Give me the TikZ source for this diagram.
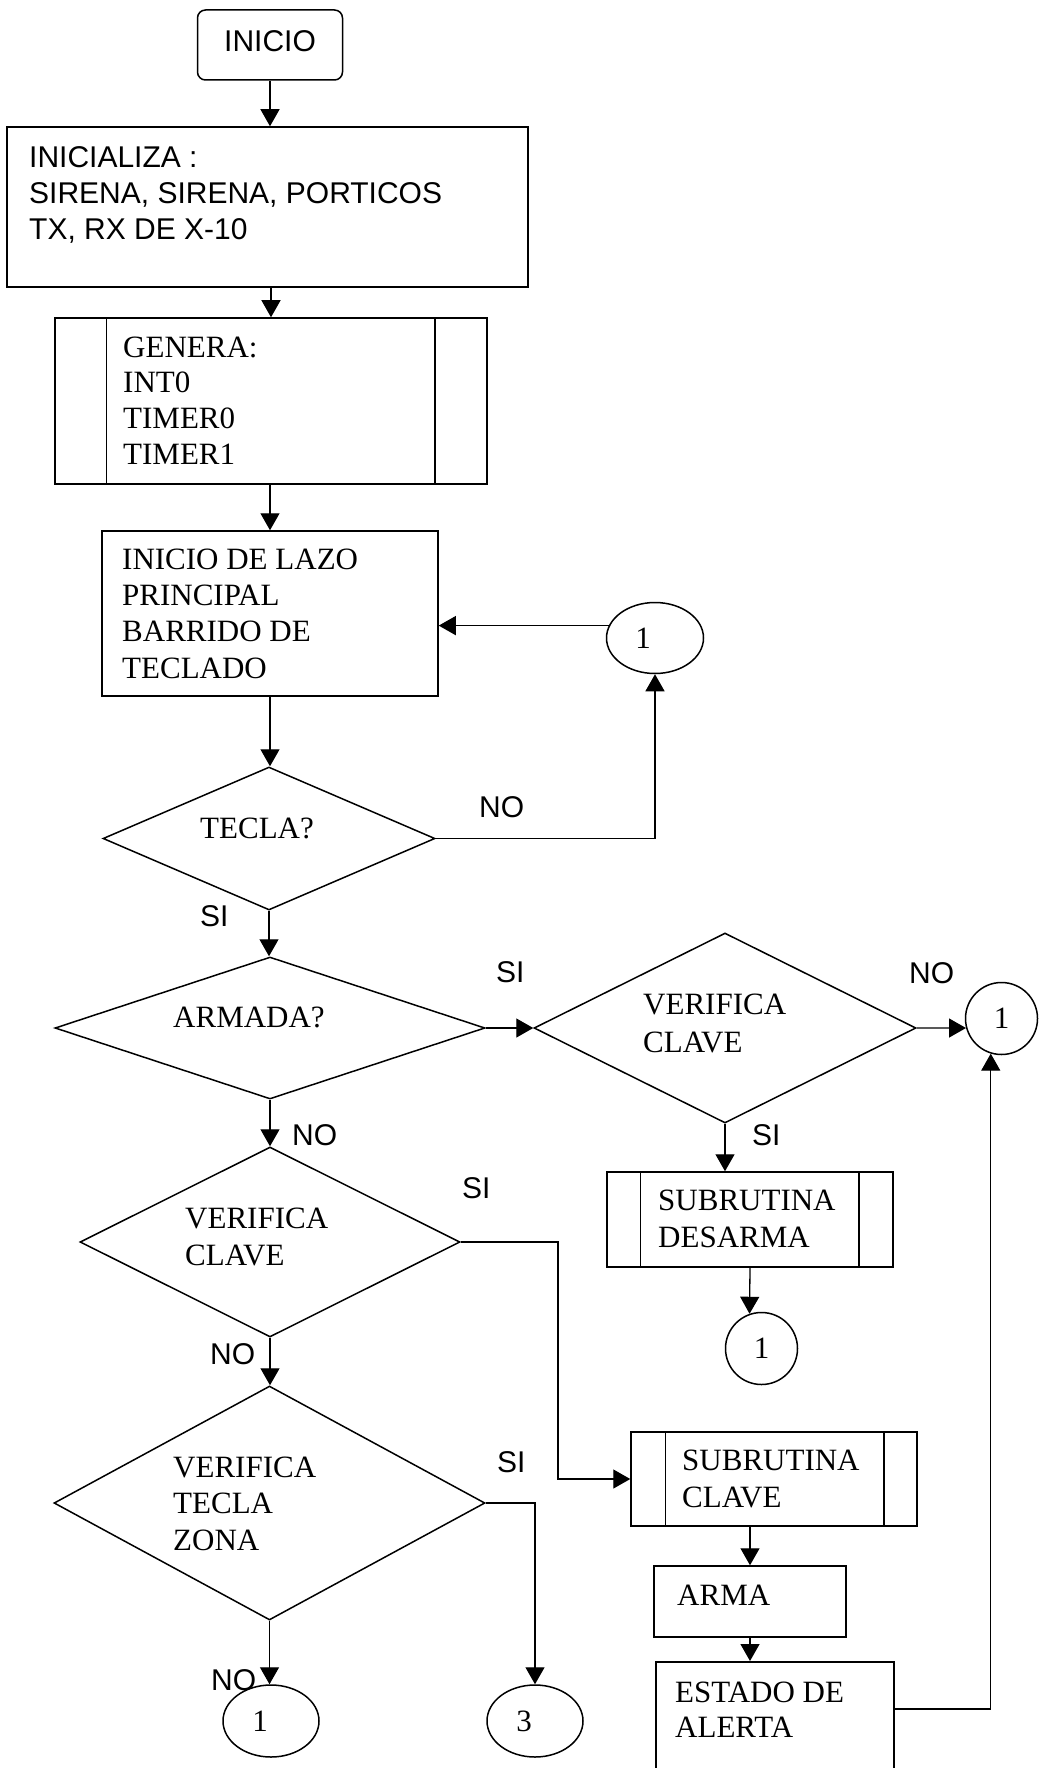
\documentclass[tikz,border=0pt]{standalone}
\usepackage{fontspec}
\setmainfont{Liberation Serif}
\newfontfamily\arialf{Liberation Sans}
\usetikzlibrary{shapes.geometric,arrows.meta,calc}
\begin{document}
\begin{tikzpicture}[x=1pt,y=-1pt,
  shp/.style={draw, line width=1.5pt, inner sep=0pt},
  conn/.style={line width=1.3pt},
  arr/.style={conn, -{Triangle[length=17pt,width=19pt]}},
  stxt/.style={font=\arialf\fontsize{30pt}{36pt}\selectfont, inner sep=0pt},
  rtxt/.style={font=\fontsize{31pt}{#1}\selectfont, inner sep=0pt, align=left},
  rtxt/.default=36.3pt,
  ctxt/.style={font=\fontsize{31pt}{36pt}\selectfont},
  ]
\fill[white] (0,0) rectangle (1041,1768);
\useasboundingbox (0,0) rectangle (1041,1768);
\clip (0,0) rectangle (1041,1768);

% start
\node[shp, rounded corners=8pt, minimum width=145pt, minimum height=70pt, stxt, text height=21.5pt, text depth=8pt] (start) at (270,45) {INICIO};

% inicializa
\node[shp, minimum width=521pt, minimum height=160pt] (ini) at (267.5,207) {};
\node[stxt, align=left, anchor=north west] (tini) at (29,146.5) {INICIALIZA :\\SIRENA, SIRENA, PORTICOS\\TX, RX DE X-10};

% genera
\node[shp, minimum width=432pt, minimum height=166pt] (gen) at (271,401) {};
\draw[line width=1.5pt] ([xshift=52pt]gen.north west) -- ([xshift=52pt]gen.south west);
\draw[line width=1.5pt] ([xshift=-53pt]gen.north east) -- ([xshift=-53pt]gen.south east);
\node[rtxt=35.7pt, anchor=north west] (tgen) at (123,336.5) {GENERA:\\INT0\\TIMER0\\TIMER1};

% lazo
\node[shp, minimum width=336pt, minimum height=165pt] (lazo) at (270,613.5) {};
\node[rtxt, anchor=north west] (tlazo) at (122,548.5) {INICIO DE LAZO\\PRINCIPAL\\BARRIDO DE\\TECLADO};

% tecla
\node[shp, diamond, minimum width=332pt, minimum height=143pt] (tecla) at (269,838.5) {};
\node[rtxt, anchor=base west] (ttecla) at (200,838) {TECLA?};
\node[shp, ellipse, minimum width=97pt, minimum height=71pt, ctxt] (c1) at (655,638) {1\kern24pt};

% armada
\node[shp, diamond, minimum width=430pt, minimum height=142pt] (armada) at (270,1028) {};
\node[rtxt, anchor=base west] (tarmada) at (173,1027) {ARMADA?};

% verifica clave right
\node[shp, diamond, minimum width=382pt, minimum height=190pt] (vcr) at (725,1028) {};
\node[rtxt=38pt, anchor=north west] (tvcr) at (643,993.5) {VERIFICA\\CLAVE};
\node[shp, circle, minimum size=72pt, ctxt] (cr) at (1001.5,1018.5) {1};

% subrutina desarma
\node[shp, minimum width=286pt, minimum height=95pt] (sd) at (750,1219.5) {};
\draw[line width=1.5pt] ([xshift=34pt]sd.north west) -- ([xshift=34pt]sd.south west);
\draw[line width=1.5pt] ([xshift=-35pt]sd.north east) -- ([xshift=-35pt]sd.south east);
\node[rtxt=37pt, anchor=north west] (tsd) at (658,1189.5) {SUBRUTINA\\DESARMA};
\node[shp, circle, minimum size=72pt, ctxt] (c2) at (761.5,1348.5) {1};

% verifica clave left
\node[shp, diamond, minimum width=380pt, minimum height=190pt] (vcl) at (270,1242) {};
\node[rtxt=37pt, anchor=north west] (tvcl) at (185,1207.5) {VERIFICA\\CLAVE};

% verifica tecla zona
\node[shp, diamond, minimum width=431pt, minimum height=234pt] (vtz) at (269.5,1503) {};
\node[rtxt=36.5pt, anchor=north west] (tvtz) at (173,1456.5) {VERIFICA\\TECLA\\ZONA};
\node[shp, ellipse, minimum width=96pt, minimum height=72pt, ctxt] (cb) at (271,1721) {1\kern22pt};
\node[shp, ellipse, minimum width=96pt, minimum height=72pt, ctxt] (c3) at (535,1721) {3\kern22pt};

% subrutina clave
\node[shp, minimum width=286pt, minimum height=94pt] (sc) at (774,1479) {};
\draw[line width=1.5pt] ([xshift=35pt]sc.north west) -- ([xshift=35pt]sc.south west);
\draw[line width=1.5pt] ([xshift=-34pt]sc.north east) -- ([xshift=-34pt]sc.south east);
\node[rtxt=37pt, anchor=north west] (tsc) at (682,1449.5) {SUBRUTINA\\CLAVE};

% arma
\node[shp, minimum width=192pt, minimum height=71pt] (arma) at (750,1601.5) {};
\node[rtxt, anchor=base west] (tarma) at (677,1605) {ARMA};

% estado de alerta
\node[shp, minimum width=238pt, minimum height=150pt, anchor=north west] (es) at (655,1661) {};
\node[rtxt=35pt, anchor=north west] (tes) at (675,1681.5) {ESTADO DE\\ALERTA};

% labels
\node[stxt, anchor=base west] (lno1) at (479,817) {NO};
\node[stxt, anchor=base west] (lsi1) at (200,926) {SI};
\node[stxt, anchor=base west] (lsi2) at (496,982) {SI};
\node[stxt, anchor=base west] (lno2) at (909,983) {NO};
\node[stxt, anchor=base west] (lno3) at (292,1145) {NO};
\node[stxt, anchor=base west] (lsi3) at (752,1145) {SI};
\node[stxt, anchor=base west] (lsi4) at (462,1198) {SI};
\node[stxt, anchor=base west] (lno4) at (210,1364) {NO};
\node[stxt, anchor=base west] (lsi5) at (497,1472) {SI};
\node[stxt, anchor=base west] (lno5) at (211,1690) {NO};

% connectors
\draw[arr] (start.south) -- (start.south |- ini.north);
\draw[arr] (gen.north |- ini.south) -- (gen.north);
\draw[arr] (lazo.north |- gen.south) -- (lazo.north);
\draw[arr] (lazo.south) -- (lazo.south |- tecla.north);
\draw[arr] (tecla.east) -| (c1.south);
\draw[arr] (c1.165) -- (c1.165 -| lazo.east);
\draw[arr] (tecla.south) -- (tecla.south |- armada.north);
\draw[arr] (armada.east) -- (vcr.west);
\draw[arr] (vcr.east) -- (cr.195);
\draw[arr] (vcr.south) -- (vcr.south |- sd.north);
\draw[arr] (sd.south) -- (c2.109);
\draw[arr] (armada.south) -- (armada.south |- vcl.north);
\coordinate (k1) at (558,1242);
\draw[arr] (vcl.east) -- (k1) |- (sc.west);
\draw[arr] (vcl.south) -- (vcl.south |- vtz.north);
\draw[arr] (vtz.east) -| (c3.north);
\draw[arr] (vtz.south) -- (vtz.south |- cb.north);
\draw[arr] (arma.north |- sc.south) -- (arma.north);
\draw[arr] (arma.south) -- (arma.south |- es.north);
\coordinate (esr) at ($(es.north east)+(0,48)$);
\draw[arr] (esr) -| (cr.253);
\end{tikzpicture}
\end{document}
